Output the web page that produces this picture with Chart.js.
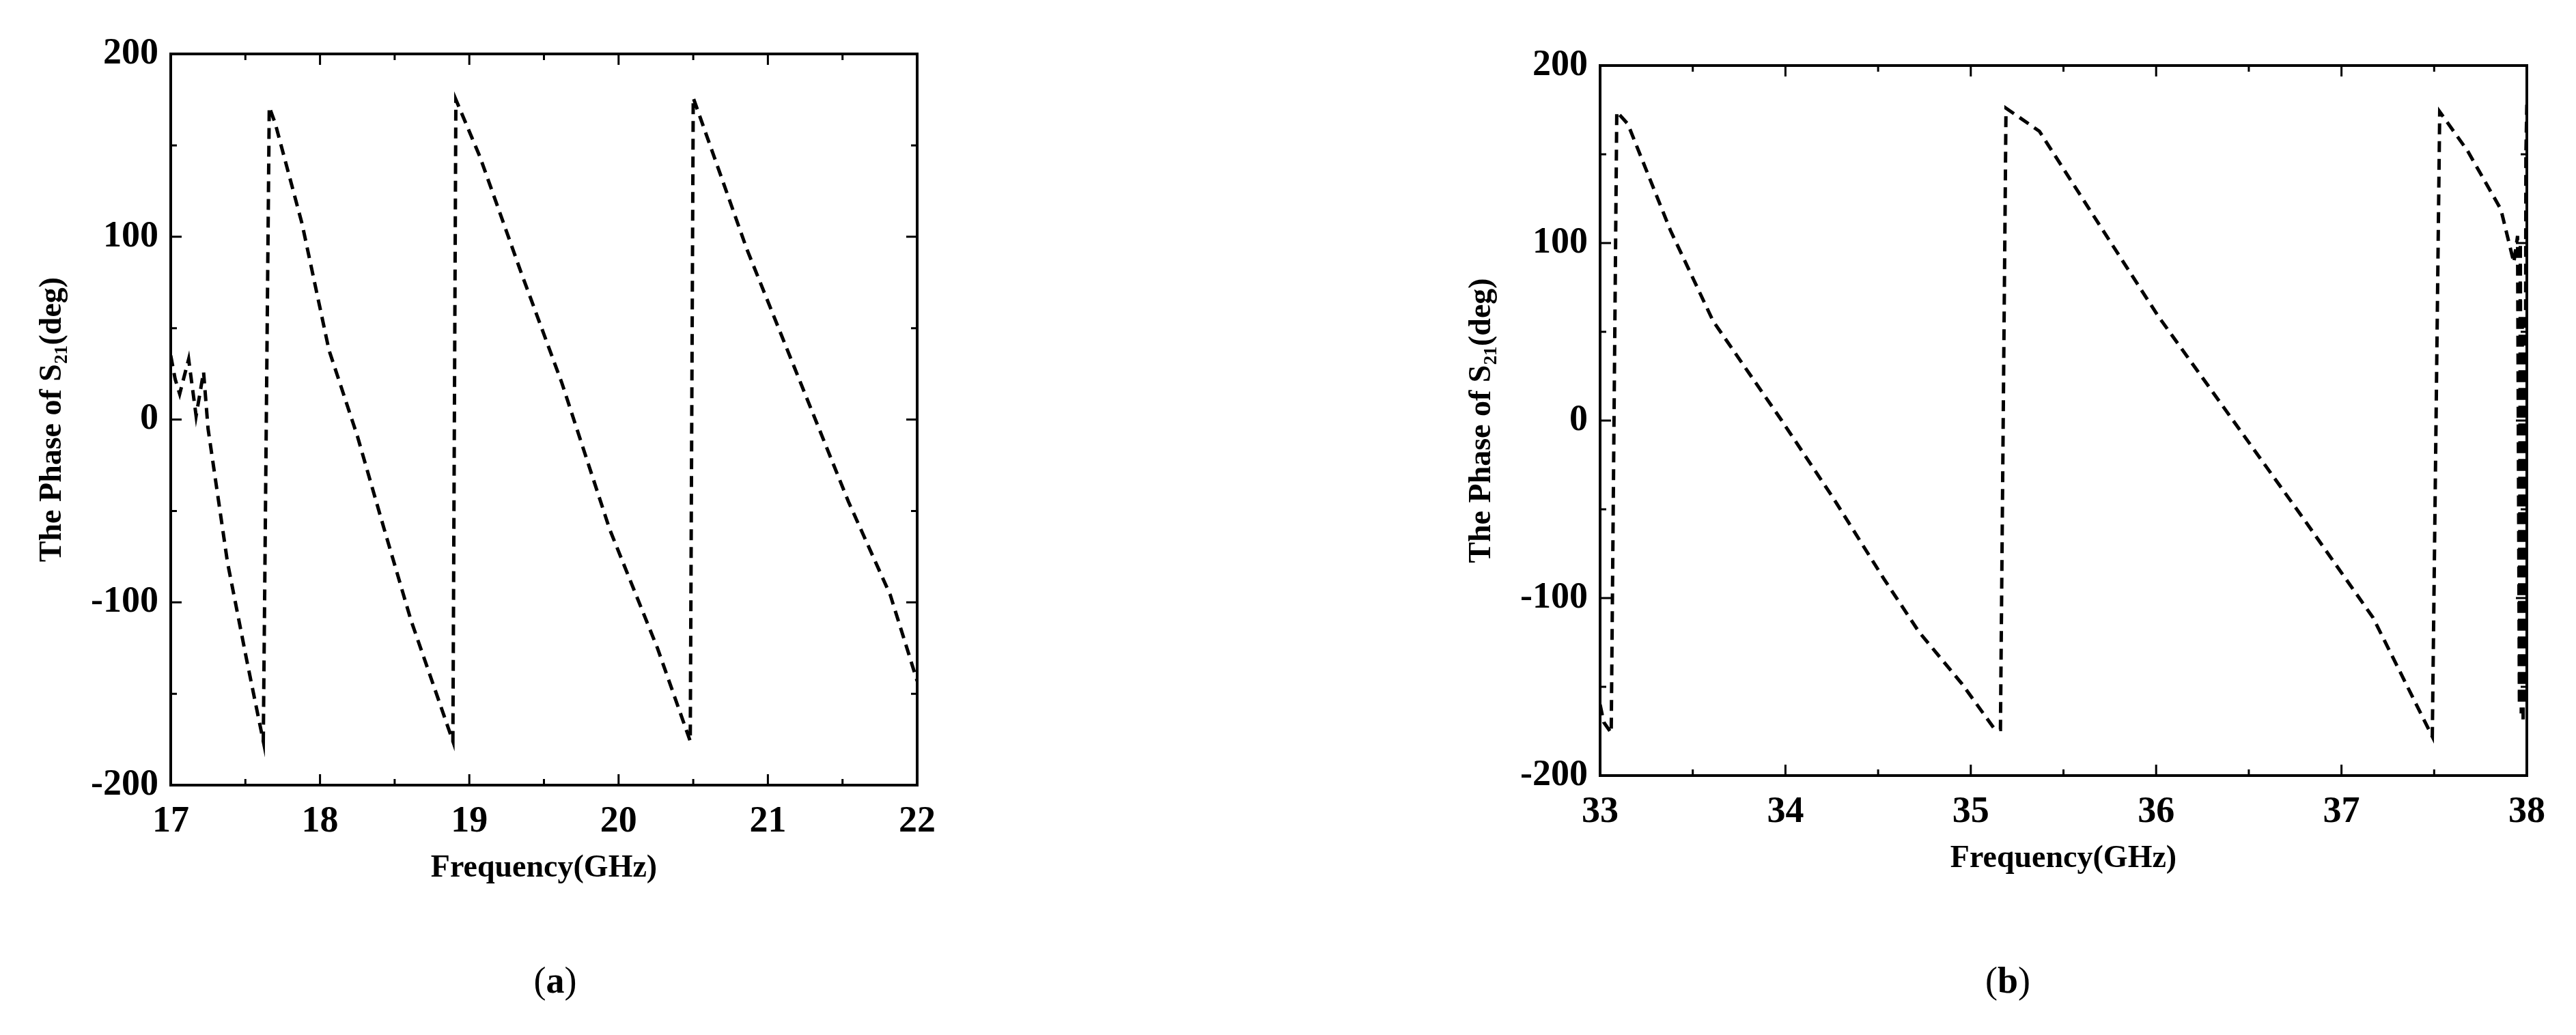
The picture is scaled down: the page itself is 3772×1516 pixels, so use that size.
<!DOCTYPE html>
<html><head><meta charset="utf-8">
<script src="https://cdn.jsdelivr.net/npm/chart.js@4"></script>
<style>
body{margin:0;width:3772px;height:1516px;background:#fff;position:relative;overflow:hidden;font-family:"Liberation Serif",serif}
.c{position:absolute}
.lab{position:absolute;top:1405px;font-size:54px;transform:translateX(-50%)}
</style></head><body>
<div class="c" style="left:0;top:0;width:1400px;height:1300px"><canvas id="a"></canvas></div>
<div class="c" style="left:2093px;top:0;width:1664px;height:1286px"><canvas id="b"></canvas></div>
<div class="lab" style="left:813px">(<b>a</b>)</div>
<div class="lab" style="left:2940px">(<b>b</b>)</div>
<script>
const freqA=[17,17.03,17.06,17.12,17.17,17.22,17.25,17.38,17.51,17.62,17.66,17.7,17.88,18.06,18.25,18.43,18.61,18.89,18.91,19.07,19.34,19.62,19.94,20.26,20.48,20.5,20.86,21.18,21.54,21.82,22];
const phaseA=[35,22,14,33,2,26,-5,-78,-132,-176,171,162,107,38,-9,-60,-110,-176,175,144,82,20,-60,-125,-176,176,93,28,-45,-96,-143];
const freqB=[33,33.02,33.06,33.09,33.15,33.38,33.61,33.98,34.26,34.53,34.72,34.95,35.13,35.16,35.19,35.37,35.64,36.01,36.34,36.8,37.17,37.49,37.53,37.68,37.86,37.93,37.95,37.96,37.965,37.97,37.975,37.98,37.985,37.99,37.995,38];
const phaseB=[-160,-170,-176,174,167,107,56,0,-44,-89,-119,-148,-174,-174,176,163,119,59,11,-56,-111,-178,174,152,119,89,104,-160,100,-165,60,-170,40,-160,150,178];
const xTicksA=[17,18,19,20,21,22], xTicksB=[33,34,35,36,37,38], yTicks=[-200,-100,0,100,200];

const F="'Liberation Serif', serif";
const frame={id:'frame',afterDraw(ch){
  const c=ch.ctx,a=ch.chartArea,x=ch.scales.x,y=ch.scales.y;
  c.save();c.strokeStyle='#000';c.lineWidth=4;
  c.strokeRect(a.left,a.top,a.right-a.left,a.bottom-a.top);
  c.lineWidth=3;
  for(let v=x.min;v<=x.max+1e-9;v+=0.5){const p=x.getPixelForValue(v),L=(Math.abs(v-Math.round(v))<1e-6)?16:9;
    c.beginPath();c.moveTo(p,a.bottom);c.lineTo(p,a.bottom-L);c.moveTo(p,a.top);c.lineTo(p,a.top+L);c.stroke();}
  for(let v=y.min;v<=y.max;v+=50){const p=y.getPixelForValue(v),L=(v%100===0)?16:9;
    c.beginPath();c.moveTo(a.left,p);c.lineTo(a.left+L,p);c.moveTo(a.right,p);c.lineTo(a.right-L,p);c.stroke();}
  c.restore();}};
function make(id,fx,py,xt,pad){
  new Chart(document.getElementById(id),{type:'scatter',
   data:{datasets:[{data:fx.map((f,i)=>({x:f,y:py[i]})),showLine:true,borderColor:'#000',borderWidth:5,borderDash:[16,10],pointRadius:0,tension:0}]},
   options:{responsive:true,maintainAspectRatio:false,animation:false,
    layout:{padding:{top:pad,right:57,left:50,bottom:0}},
    plugins:{legend:{display:false},tooltip:{enabled:false}},
    scales:{
     x:{type:'linear',min:xt[0],max:xt[xt.length-1],afterBuildTicks:s=>{s.ticks=xt.map(v=>({value:v}))},
        afterFit:s=>{s.height=150},grid:{display:false},border:{display:false},
        ticks:{color:'#000',font:{family:F,size:54,weight:'bold'},padding:14},
        title:{display:true,text:'Frequency(GHz)',color:'#000',font:{family:F,size:46,weight:'bold'},padding:0}},
     y:{min:-200,max:200,afterBuildTicks:s=>{s.ticks=yTicks.map(v=>({value:v}))},
        afterFit:s=>{s.width=200},grid:{display:false},border:{display:false},
        ticks:{color:'#000',font:{family:F,size:54,weight:'bold'},padding:10},
        title:{display:true,text:'The Phase of S₂₁(deg)',color:'#000',font:{family:F,size:46,weight:'bold'},padding:0}}}},
   plugins:[frame]});
}
make('a',freqA,phaseA,xTicksA,79);
make('b',freqB,phaseB,xTicksB,96);
</script></body></html>
